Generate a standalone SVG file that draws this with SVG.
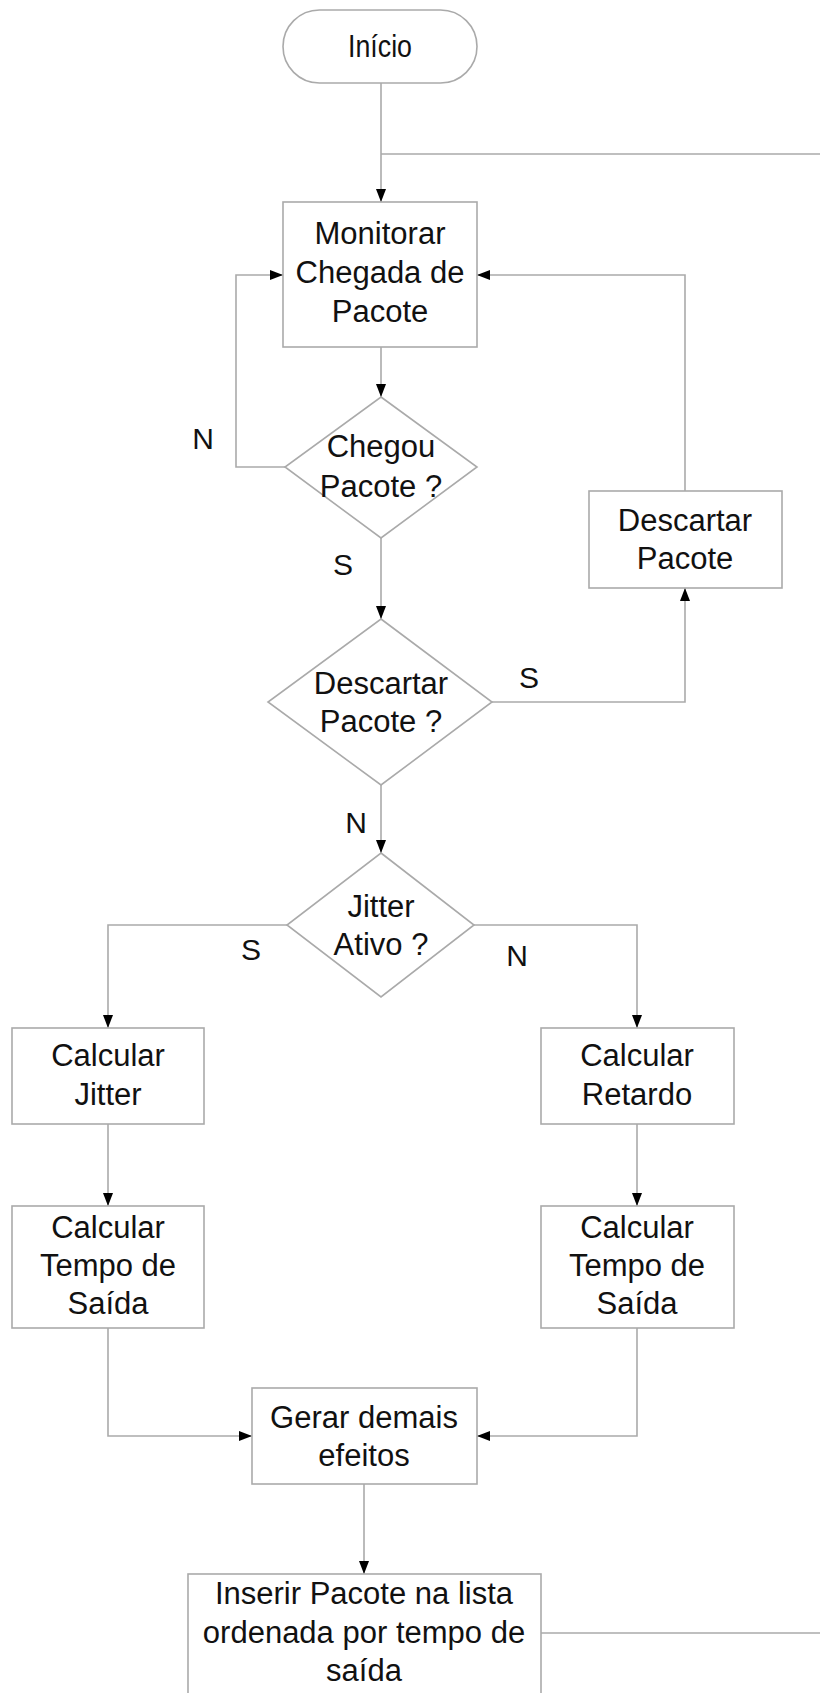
<svg xmlns="http://www.w3.org/2000/svg" width="820" height="1693" viewBox="0 0 820 1693">
<defs>
<style>
.shape{fill:#fff;stroke:#aaa;stroke-width:1.6}
.ln{fill:none;stroke:#aaa;stroke-width:1.6}
.t{font-family:"Liberation Sans",Arial,sans-serif;font-size:31px;fill:#111;text-anchor:middle}
.lbl{font-family:"Liberation Sans",Arial,sans-serif;font-size:30px;fill:#111;text-anchor:middle}
</style>
<marker id="ah" markerUnits="userSpaceOnUse" markerWidth="13" markerHeight="13" viewBox="0 0 13 13" refX="13" refY="6.5" orient="auto">
<path d="M0,1.5 L13,6.5 L0,11.5 Z" fill="#000"/>
</marker>
</defs>
<rect width="820" height="1693" fill="#fff"/>
<g id="connectors">
<path class="ln" d="M381,83 V202" marker-end="url(#ah)"/>
<path class="ln" d="M381,154 H820"/>
<path class="ln" d="M381,347 V397" marker-end="url(#ah)"/>
<path class="ln" d="M285,467 H236 V275 H283" marker-end="url(#ah)"/>
<path class="ln" d="M381,538 V619" marker-end="url(#ah)"/>
<path class="ln" d="M492,702 H685 V588" marker-end="url(#ah)"/>
<path class="ln" d="M685,491 V275 H477" marker-end="url(#ah)"/>
<path class="ln" d="M381,785 V853" marker-end="url(#ah)"/>
<path class="ln" d="M287,925 H108 V1028" marker-end="url(#ah)"/>
<path class="ln" d="M474,925 H637 V1028" marker-end="url(#ah)"/>
<path class="ln" d="M108,1124 V1206" marker-end="url(#ah)"/>
<path class="ln" d="M637,1124 V1206" marker-end="url(#ah)"/>
<path class="ln" d="M108,1328 V1436 H252" marker-end="url(#ah)"/>
<path class="ln" d="M637,1328 V1436 H477" marker-end="url(#ah)"/>
<path class="ln" d="M364,1484 V1574" marker-end="url(#ah)"/>
<path class="ln" d="M541,1633 H820"/>
<text class="lbl" x="203" y="449">N</text>
<text class="lbl" x="343" y="575">S</text>
<text class="lbl" x="529" y="688">S</text>
<text class="lbl" x="356" y="833">N</text>
<text class="lbl" x="251" y="960">S</text>
<text class="lbl" x="517" y="966">N</text>
</g>
<g id="inicio">
<rect class="shape" x="283" y="10" width="194" height="73" rx="36.5" ry="36.5"/>
<text class="t" x="380" y="57" textLength="64" lengthAdjust="spacingAndGlyphs">Início</text>
</g>
<g id="monitorar">
<rect class="shape" x="283" y="202" width="194" height="145"/>
<text class="t" x="380" y="244">Monitorar</text>
<text class="t" x="380" y="283">Chegada de</text>
<text class="t" x="380" y="322">Pacote</text>
</g>
<g id="chegou">
<polygon class="shape" points="381,397 477,467 381,538 285,467"/>
<text class="t" x="381" y="457">Chegou</text>
<text class="t" x="381" y="497">Pacote ?</text>
</g>
<g id="descartar-q">
<polygon class="shape" points="381,619 492,702 381,785 268,702"/>
<text class="t" x="381" y="694">Descartar</text>
<text class="t" x="381" y="732">Pacote ?</text>
</g>
<g id="descartar">
<rect class="shape" x="589" y="491" width="193" height="97"/>
<text class="t" x="685" y="531">Descartar</text>
<text class="t" x="685" y="569">Pacote</text>
</g>
<g id="jitter-q">
<polygon class="shape" points="381,853 474,925 381,997 287,925"/>
<text class="t" x="381" y="917">Jitter</text>
<text class="t" x="381" y="955">Ativo ?</text>
</g>
<g id="calc-jitter">
<rect class="shape" x="12" y="1028" width="192" height="96"/>
<text class="t" x="108" y="1066">Calcular</text>
<text class="t" x="108" y="1105">Jitter</text>
</g>
<g id="calc-retardo">
<rect class="shape" x="541" y="1028" width="193" height="96"/>
<text class="t" x="637" y="1066">Calcular</text>
<text class="t" x="637" y="1105">Retardo</text>
</g>
<g id="tempo-left">
<rect class="shape" x="12" y="1206" width="192" height="122"/>
<text class="t" x="108" y="1238">Calcular</text>
<text class="t" x="108" y="1276">Tempo de</text>
<text class="t" x="108" y="1314">Saída</text>
</g>
<g id="tempo-right">
<rect class="shape" x="541" y="1206" width="193" height="122"/>
<text class="t" x="637" y="1238">Calcular</text>
<text class="t" x="637" y="1276">Tempo de</text>
<text class="t" x="637" y="1314">Saída</text>
</g>
<g id="gerar">
<rect class="shape" x="252" y="1388" width="225" height="96"/>
<text class="t" x="364" y="1428">Gerar demais</text>
<text class="t" x="364" y="1466">efeitos</text>
</g>
<g id="inserir">
<rect class="shape" x="188" y="1574" width="353" height="140"/>
<text class="t" x="364" y="1604">Inserir Pacote na lista</text>
<text class="t" x="364" y="1643">ordenada por tempo de</text>
<text class="t" x="364" y="1681">saída</text>
</g>
</svg>
